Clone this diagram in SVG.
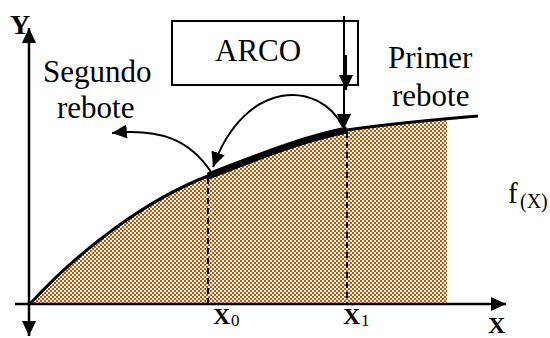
<svg xmlns="http://www.w3.org/2000/svg" width="550" height="338" viewBox="0 0 550 338" font-family="'Liberation Serif', serif">
<style>
text{font-family:'Liberation Serif',serif;fill:#000}
.lbl{font-size:31px}
.bx{font-size:24px;font-weight:bold}
.sub{font-size:17px}
.ln{fill:none;stroke:#000;stroke-width:2}
.dash{fill:none;stroke:#000;stroke-width:2;stroke-dasharray:6 4}
</style>
<defs>
<pattern id="chk" width="4" height="4" patternUnits="userSpaceOnUse">
<rect width="4" height="4" fill="#fff"/>
<rect width="2" height="2" fill="#cc5200" shape-rendering="crispEdges"/>
<rect x="2" y="2" width="2" height="2" fill="#cc5200" shape-rendering="crispEdges"/>
</pattern>
<clipPath id="cut"><rect x="0" y="0" width="447" height="338"/></clipPath>
<marker id="ah" viewBox="0 0 15 14" refX="15" refY="7" markerWidth="15" markerHeight="14" markerUnits="userSpaceOnUse" orient="auto-start-reverse">
<path d="M0 0 L15 7 L0 14 Z" fill="#000"/>
</marker>
</defs>
<g id="area">
<path clip-path="url(#cut)" fill="url(#chk)" d="M30 304 C80 249 148 199 208 176 C254 158.5 301 139 347 130 C390 123.5 435 119.5 478 116 L478 304 Z"/>
</g>
<g id="axes">
<line class="ln" x1="29" y1="336" x2="29" y2="28" marker-start="url(#ah)" marker-end="url(#ah)" style="stroke-width:2.5"/>
<line class="ln" x1="15" y1="304" x2="506" y2="304" marker-end="url(#ah)" style="stroke-width:2.5"/>
</g>
<g id="curve">
<path class="ln" style="stroke-width:3" d="M30 304 C80 249 148 199 208 176 C254 158.5 301 139 347 130 C390 123.5 435 119.5 478 116"/>
<path class="ln" style="stroke-width:7" d="M208 176 C254 158.5 301 139 347 130"/>
</g>
<g id="guides">
<line class="dash" x1="208" y1="178" x2="208" y2="304"/>
<line class="dash" x1="347" y1="132" x2="347" y2="304"/>
</g>
<g id="arco">
<rect x="172" y="21" width="186" height="64" fill="none" stroke="#000" stroke-width="2"/>
<text class="lbl" font-family="'Liberation Serif', serif" x="215" y="61">ARCO</text>
</g>
<g id="connectors">
<line class="ln" x1="344" y1="16" x2="344" y2="129" marker-end="url(#ah)"/>
<line class="ln" x1="346" y1="55" x2="346" y2="90" marker-end="url(#ah)"/>
<path class="ln" d="M343 127 C320 80 245 78 213 167" marker-end="url(#ah)"/>
<path class="ln" d="M211 172 C190 140 160 128 112 133" marker-end="url(#ah)"/>
</g>
<g id="segundo">
<text class="lbl" font-family="'Liberation Serif', serif" x="43" y="82">Segundo</text>
<text class="lbl" font-family="'Liberation Serif', serif" x="57" y="118">rebote</text>
</g>
<g id="primer">
<text class="lbl" font-family="'Liberation Serif', serif" x="388" y="68">Primer</text>
<text class="lbl" font-family="'Liberation Serif', serif" x="392" y="106">rebote</text>
</g>
<g id="fx">
<text x="508" y="203" style="font-size:29px">f<tspan x="520" y="208" style="font-size:20px">(X)</tspan></text>
</g>
<g id="labels">
<text x="10" y="34" style="font-size:28px;font-weight:bold">Y</text>
<text class="bx" x="488" y="333">X</text>
<text x="213" y="324"><tspan class="bx">X</tspan><tspan class="sub" x="231" y="326">0</tspan></text>
<text x="343" y="324"><tspan class="bx">X</tspan><tspan class="sub" x="361" y="326">1</tspan></text>
</g>
</svg>
